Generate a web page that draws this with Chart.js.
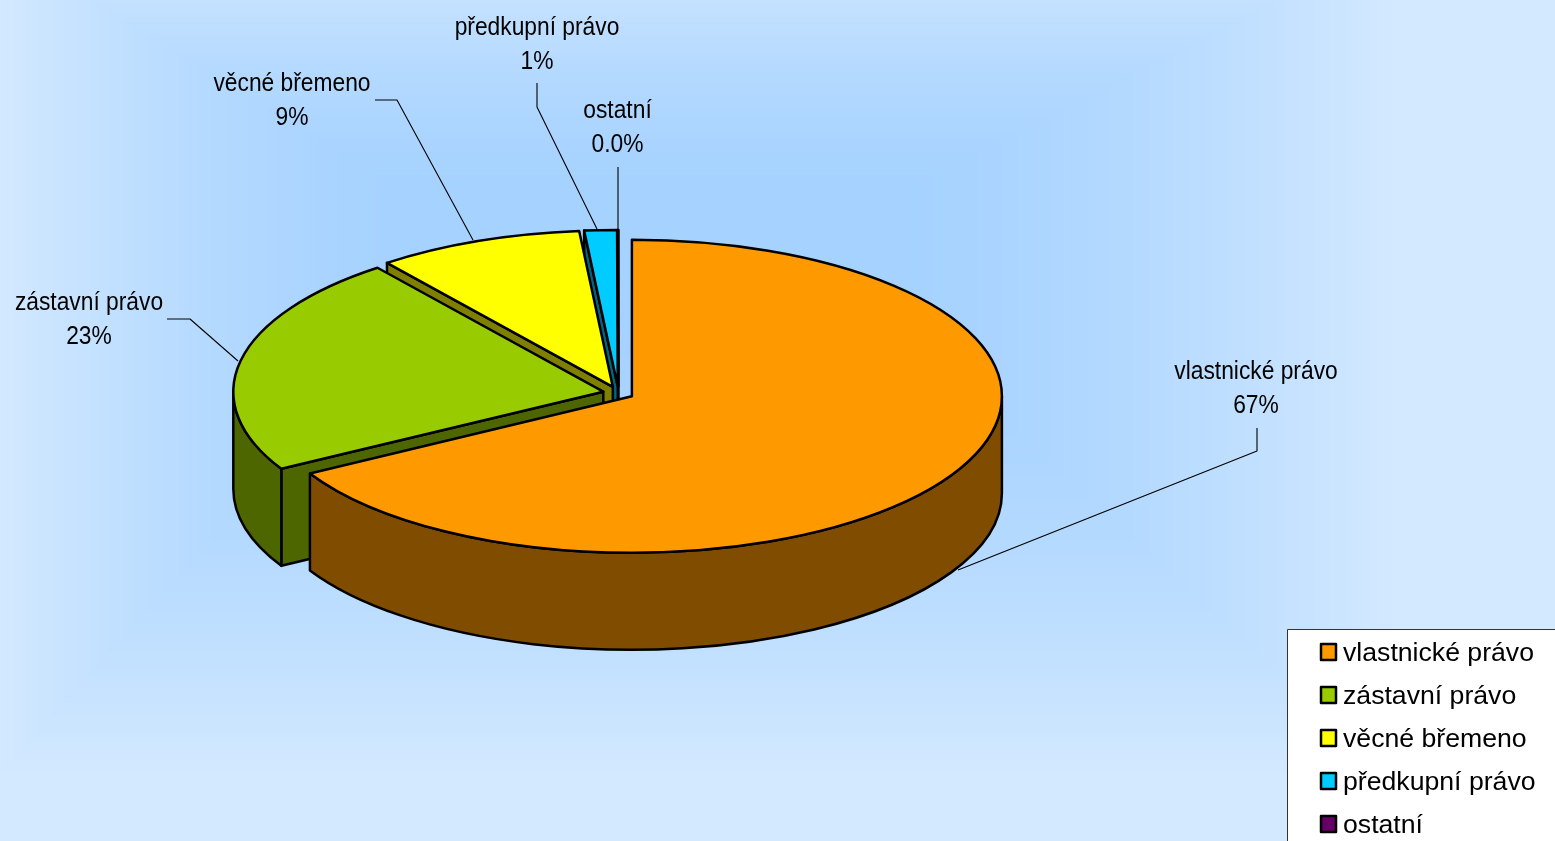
<!DOCTYPE html>
<html lang="cs">
<head>
<meta charset="utf-8">
<title>Pie</title>
<script src="https://cdn.jsdelivr.net/npm/chart.js@4"></script>
<style>
  html, body { margin: 0; padding: 0; overflow: hidden; background: #d3e9ff; }
  canvas { display: block; }
</style>
</head>
<body>
<canvas id="chart" width="1555" height="841"></canvas>
<script>
const categories = ['vlastnické právo', 'zástavní právo', 'věcné břemeno', 'předkupní právo', 'ostatní'];
const shares = [66.8, 22.75, 9.0, 1.42, 0.03];
const shareLabels = ['67%', '23%', '9%', '1%', '0.0%'];
const fillColors = ['#ff9900', '#99cc00', '#ffff00', '#00ccff', '#660066'];
const wallColors = ['#804d00', '#4d6600', '#808000', '#006680', '#330033'];

// label anchor (centre x, first baseline) and leader polyline per slice
const labelAnchors = [[1256, 379], [89, 310], [292, 91], [537, 35], [617.5, 118]];
const leaders = [
    [[1257, 428], [1257, 451], [958, 570]],
    [[167, 319], [190, 319], [238, 361]],
    [[375, 100], [397, 100], [473, 240]],
    [[537, 83], [537, 107], [597, 229]],
    [[618, 167], [618, 230]]
];

const FONT = '"Liberation Sans", Arial, sans-serif';
const TILT = 0.423;     // ellipse squash
const DEPTH = 97;       // height of the pie
const EXPLODE = 15.5;   // slice pull-out, before the squash
const OUTLINE = 2.5;

const pie3d = {
    id: 'pie3d',
    afterDatasetsUpdate(chart) {
        chart.getDatasetMeta(0).data.forEach(arc => {
            const mid = (arc.startAngle + arc.endAngle) / 2;
            arc.x += Math.cos(mid) * EXPLODE;
            arc.y += Math.sin(mid) * EXPLODE;
        });
    },
    beforeDatasetsDraw(chart) {
        const ctx = chart.ctx;
        const area = chart.chartArea;
        const cy = (area.top + area.bottom) / 2;
        const arcs = chart.getDatasetMeta(0).data;

        // walls, far slices first
        for (let i = arcs.length - 1; i >= 0; i--) {
            const arc = arcs[i];
            const R = arc.outerRadius;
            const sx = arc.x;
            const sy = cy + (arc.y - cy) * TILT;
            ctx.fillStyle = wallColors[i];
            ctx.strokeStyle = '#000';
            ctx.lineWidth = OUTLINE;
            ctx.lineJoin = 'round';

            if (Math.cos(arc.startAngle) < 0) {
                const px = sx + R * Math.cos(arc.startAngle);
                const py = sy + R * TILT * Math.sin(arc.startAngle);
                ctx.beginPath();
                ctx.moveTo(sx, sy);
                ctx.lineTo(px, py);
                ctx.lineTo(px, py + DEPTH);
                ctx.lineTo(sx, sy + DEPTH);
                ctx.closePath();
                ctx.fill();
                ctx.stroke();
            }

            const a0 = Math.max(arc.startAngle, 0);
            const a1 = Math.min(arc.endAngle, Math.PI);
            if (a1 > a0) {
                ctx.beginPath();
                ctx.ellipse(sx, sy, R, R * TILT, 0, a0, a1);
                ctx.ellipse(sx, sy + DEPTH, R, R * TILT, 0, a1, a0, true);
                ctx.closePath();
                ctx.fill();
                ctx.stroke();
            }
        }

        // the tops are drawn by the library, squashed about the centre
        ctx.save();
        ctx.translate(0, cy);
        ctx.scale(1, TILT);
        ctx.translate(0, -cy);
    },
    afterDatasetsDraw(chart) {
        const ctx = chart.ctx;
        ctx.restore();
        const area = chart.chartArea;
        const cy = (area.top + area.bottom) / 2;

        ctx.strokeStyle = '#000';
        ctx.lineWidth = OUTLINE;
        ctx.lineJoin = 'round';
        chart.getDatasetMeta(0).data.forEach(arc => {
            const sx = arc.x;
            const sy = cy + (arc.y - cy) * TILT;
            ctx.beginPath();
            ctx.moveTo(sx, sy);
            ctx.ellipse(sx, sy, arc.outerRadius, arc.outerRadius * TILT, 0, arc.startAngle, arc.endAngle);
            ctx.closePath();
            ctx.stroke();
        });
    }
};

const background = {
    id: 'background',
    beforeDraw(chart) {
        const ctx = chart.ctx;
        const steps = 64;
        const focus = [400, 190, 900, 330];    // left, top, right, bottom
        const bounds = [-5, -60, 1400, 780];
        const pale = [211, 233, 255];
        const deep = [166, 210, 255];
        ctx.fillStyle = `rgb(${pale})`;
        ctx.fillRect(0, 0, chart.width, chart.height);
        for (let s = steps; s >= 0; s--) {
            const t = s / steps;
            const k = Math.pow(t, 1.5);
            const mix = pale.map((c, i) => Math.round(deep[i] + (c - deep[i]) * k));
            const [l, u, r, d] = focus.map((f, i) => f + (bounds[i] - f) * t);
            ctx.fillStyle = `rgb(${mix})`;
            ctx.fillRect(l, u, r - l, d - u);
        }
    }
};

const annotations = {
    id: 'annotations',
    afterDraw(chart) {
        const ctx = chart.ctx;
        ctx.save();

        // leader lines
        ctx.strokeStyle = '#000';
        ctx.lineWidth = 1.1;
        leaders.forEach(line => {
            ctx.beginPath();
            line.forEach(([x, y], i) => i ? ctx.lineTo(x, y) : ctx.moveTo(x, y));
            ctx.stroke();
        });

        // slice labels are narrower than the legend text
        ctx.fillStyle = '#000';
        ctx.font = `26.5px ${FONT}`;
        ctx.textAlign = 'center';
        ctx.textBaseline = 'alphabetic';
        const narrow = (text, x, y) => ctx.fillText(text, x, y, ctx.measureText(text).width * 0.86);
        categories.forEach((name, i) => {
            const [x, y] = labelAnchors[i];
            narrow(name, x, y);
            narrow(shareLabels[i], x, y + 34);
        });

        // legend box runs off the corner of the page
        ctx.fillStyle = '#fff';
        ctx.strokeStyle = '#333';
        ctx.lineWidth = 1;
        ctx.fillRect(1288, 629, 300, 250);
        ctx.strokeRect(1287.5, 629.5, 300, 250);
        ctx.textAlign = 'left';
        ctx.font = `26.65px ${FONT}`;
        categories.forEach((name, i) => {
            const y = 652 + 43 * i;
            ctx.fillStyle = fillColors[i];
            ctx.strokeStyle = '#000';
            ctx.lineWidth = 2.5;
            ctx.fillRect(1321, y - 8, 15, 16);
            ctx.strokeRect(1321, y - 8, 15, 16);
            ctx.fillStyle = '#000';
            ctx.fillText(name, 1343, y + 9);
        });
        ctx.restore();
    }
};

new Chart(document.getElementById('chart').getContext('2d'), {
    type: 'pie',
    data: {
        labels: categories,
        datasets: [{
            data: shares,
            backgroundColor: fillColors,
            borderWidth: 0,
            radius: 370,
            clip: false
        }]
    },
    options: {
        responsive: false,
        animation: false,
        events: [],
        layout: { padding: { left: 0, top: 0, right: 318, bottom: 55 } },
        plugins: {
            legend: { display: false },
            tooltip: { enabled: false }
        }
    },
    plugins: [background, pie3d, annotations]
});
</script>
</body>
</html>
